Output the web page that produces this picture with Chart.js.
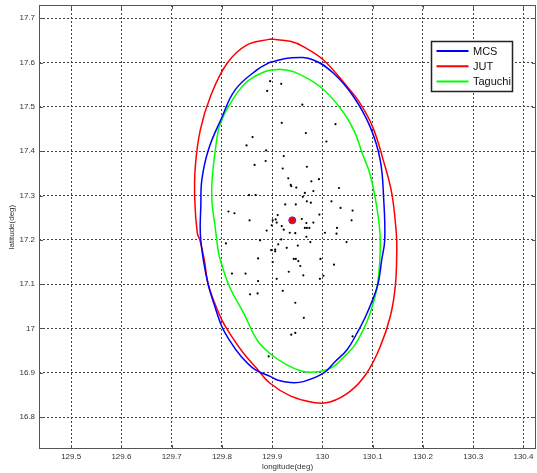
<!DOCTYPE html>
<html><head><meta charset="utf-8">
<script src="https://cdn.jsdelivr.net/npm/chart.js@4"></script>
<style>html,body{margin:0;padding:0;background:#fff}</style>
</head><body>
<canvas id="c" width="537" height="473"></canvas>
<script>
// ---- tick labels ----
const xTicks = [129.5,129.6,129.7,129.8,129.9,130.0,130.1,130.2,130.3,130.4];
const xTickLabels = ['129.5','129.6','129.7','129.8','129.9','130','130.1','130.2','130.3','130.4'];
const yTicks = [16.8,16.9,17.0,17.1,17.2,17.3,17.4,17.5,17.6,17.7];
const yTickLabels = ['16.8','16.9','17','17.1','17.2','17.3','17.4','17.5','17.6','17.7'];

// ---- sample points ----
const sampleLon = [129.896,129.918,129.890,129.960,129.919,129.967,130.026,129.861,129.849,130.008,
 129.888,129.923,129.887,129.865,129.969,129.921,129.932,129.978,129.993,129.937,
 129.938,129.948,130.033,129.982,129.965,129.961,129.854,129.867,129.926,129.947,
 129.969,129.977,130.018,130.036,130.060,129.813,129.825,129.855,129.911,129.994,
 129.901,129.907,129.909,129.959,129.968,129.982,130.058,129.919,129.899,129.923,
 129.889,129.965,129.969,129.974,130.029,129.935,129.946,130.005,130.028,129.968,
 129.918,129.976,129.876,130.048,129.808,129.912,129.929,129.951,129.898,129.906,
 129.906,129.872,129.943,129.947,129.952,129.996,129.901,129.956,130.023,129.933,
 129.820,129.847,129.962,130.002,129.995,129.909,129.872,129.921,129.856,129.871,
 129.946,129.963,129.938,129.946,130.060,129.893];
const sampleLat = [17.558,17.552,17.536,17.505,17.464,17.441,17.461,17.432,17.413,17.422,
 17.402,17.389,17.378,17.369,17.365,17.361,17.339,17.332,17.337,17.324,
 17.321,17.318,17.317,17.310,17.306,17.297,17.301,17.301,17.280,17.280,
 17.287,17.284,17.287,17.272,17.266,17.264,17.260,17.244,17.256,17.257,
 17.244,17.246,17.239,17.247,17.238,17.239,17.244,17.231,17.233,17.223,
 17.221,17.227,17.227,17.227,17.227,17.216,17.215,17.216,17.214,17.207,
 17.201,17.195,17.199,17.195,17.192,17.190,17.182,17.187,17.177,17.178,
 17.174,17.158,17.157,17.157,17.152,17.157,17.150,17.141,17.144,17.128,
 17.124,17.124,17.120,17.119,17.112,17.112,17.107,17.085,17.077,17.079,
 17.058,17.024,16.986,16.990,16.982,16.937];

const centerLon = [129.940];
const centerLat = [17.244];

// ---- confidence ellipses ----
const mcsLon = [129.896,129.939,129.982,130.022,130.062,130.095,130.115,130.122,130.124,130.118,
 130.110,130.089,130.069,130.049,130.025,130.002,129.962,129.936,129.912,129.896,
 129.866,129.836,129.816,129.800,129.785,129.773,129.763,129.757,129.758,129.760,
 129.773,129.799,129.826,129.869,129.896];
const mcsLat = [17.601,17.611,17.606,17.576,17.523,17.455,17.380,17.290,17.200,17.155,
 17.098,17.035,16.990,16.952,16.925,16.899,16.880,16.878,16.883,16.892,
 16.907,16.940,16.972,17.004,17.053,17.098,17.155,17.215,17.275,17.335,
 17.403,17.474,17.538,17.583,17.601];

const jutLon = [129.896,129.936,129.962,130.002,130.049,130.075,130.100,130.121,130.138,130.147,
 130.148,130.145,130.135,130.115,130.088,130.055,130.015,129.982,129.936,129.895,
 129.869,129.843,129.820,129.800,129.783,129.772,129.765,129.756,129.751,129.746,
 129.747,129.757,129.777,129.810,129.850,129.896];
const jutLat = [17.653,17.648,17.636,17.606,17.546,17.508,17.455,17.380,17.305,17.215,
 17.177,17.095,17.027,16.959,16.899,16.858,16.834,16.833,16.848,16.877,
 16.910,16.944,16.981,17.019,17.065,17.102,17.155,17.200,17.215,17.290,
 17.365,17.448,17.523,17.598,17.640,17.653];

const tagLon = [129.916,129.946,129.995,130.035,130.063,130.079,130.095,130.108,130.115,130.110,
 130.095,130.079,130.062,130.041,130.022,129.995,129.962,129.929,129.895,129.870,
 129.844,129.816,129.798,129.793,129.787,129.780,129.781,129.787,129.793,129.800,
 129.813,129.846,129.886,129.916];
const tagLat = [17.585,17.578,17.546,17.498,17.446,17.396,17.347,17.275,17.200,17.102,
 17.035,16.992,16.959,16.934,16.914,16.903,16.903,16.918,16.944,16.974,
 17.033,17.092,17.150,17.173,17.225,17.290,17.343,17.403,17.448,17.471,
 17.501,17.553,17.580,17.585];

const seriesNames = ['MCS','JUT','Taguchi'];
const seriesColors = ['#0000ff','#ff0000','#00ff00'];

const toXY = (xs, ys) => xs.map((v, i) => ({x: v, y: ys[i]}));

const frameTicks = {
  id: 'frameTicks',
  afterDatasetsDraw(chart) {
    const {ctx, chartArea: a, scales} = chart;
    ctx.save();
    ctx.strokeStyle = '#555';
    ctx.lineWidth = 1;
    ctx.beginPath();
    xTicks.forEach(v => {
      const px = Math.round(scales.x.getPixelForValue(v)) + 0.5;
      ctx.moveTo(px, a.top); ctx.lineTo(px, a.top + 4);
      ctx.moveTo(px, a.bottom); ctx.lineTo(px, a.bottom - 4);
    });
    yTicks.forEach(v => {
      const py = Math.round(scales.y.getPixelForValue(v)) + 0.5;
      ctx.moveTo(a.left, py); ctx.lineTo(a.left + 4, py);
      ctx.moveTo(a.right, py); ctx.lineTo(a.right - 4, py);
    });
    ctx.stroke();
    ctx.strokeRect(Math.round(a.left) + 0.5, Math.round(a.top) + 0.5,
                   Math.round(a.right - a.left) - 1, Math.round(a.bottom - a.top) - 1);
    ctx.restore();
  }
};

const boxLegend = {
  id: 'boxLegend',
  afterDraw(chart) {
    const {ctx} = chart;
    const bx = 431.5, by = 41.5, bw = 81, bh = 50;
    ctx.save();
    ctx.fillStyle = '#fff';
    ctx.fillRect(bx, by, bw, bh);
    ctx.strokeStyle = '#222';
    ctx.lineWidth = 1.5;
    ctx.strokeRect(bx, by, bw, bh);
    ctx.font = '11px "Liberation Sans", Arial, sans-serif';
    ctx.textBaseline = 'middle';
    ctx.textAlign = 'left';
    seriesNames.forEach((name, i) => {
      const y = by + 9.5 + i * 15.3;
      ctx.strokeStyle = seriesColors[i];
      ctx.lineWidth = 2;
      ctx.beginPath(); ctx.moveTo(bx + 5, y); ctx.lineTo(bx + 37, y); ctx.stroke();
      ctx.fillStyle = '#111';
      ctx.fillText(name, bx + 41.5, y + 0.5);
    });
    ctx.restore();
  }
};

const tickFont = {family: '"Liberation Sans", Arial, sans-serif', size: 8};

new Chart(document.getElementById('c'), {
  type: 'scatter',
  data: {
    datasets: [
      {label: seriesNames[0], data: toXY(mcsLon, mcsLat), showLine: true, tension: 0.4,
       borderColor: seriesColors[0], borderWidth: 1.5, pointRadius: 0, fill: false, order: 1},
      {label: seriesNames[1], data: toXY(jutLon, jutLat), showLine: true, tension: 0.4,
       borderColor: seriesColors[1], borderWidth: 1.5, pointRadius: 0, fill: false, order: 2},
      {label: seriesNames[2], data: toXY(tagLon, tagLat), showLine: true, tension: 0.4,
       borderColor: seriesColors[2], borderWidth: 1.5, pointRadius: 0, fill: false, order: 3},
      {label: 'samples', data: toXY(sampleLon, sampleLat), pointRadius: 1.1, pointHoverRadius: 1.1,
       backgroundColor: '#000', borderWidth: 0, order: 4},
      {label: 'center', data: toXY(centerLon, centerLat), pointRadius: 3.5, pointHoverRadius: 3.5,
       backgroundColor: '#ff0000', borderColor: '#3333ff', borderWidth: 1, order: 0}
    ]
  },
  options: {
    responsive: false,
    animation: false,
    layout: {autoPadding: false, padding: {top: 5, right: 1, left: 0, bottom: 0}},
    plugins: {legend: {display: false}, tooltip: {enabled: false}},
    scales: {
      x: {
        type: 'linear', min: 129.436, max: 130.425,
        afterBuildTicks(s) { s.ticks = xTicks.map(v => ({value: v})); },
        afterFit(s) { s.height = 24; s.paddingLeft = 0; s.paddingRight = 0; },
        grid: {color: '#444', lineWidth: 1, drawTicks: false},
        border: {display: false, dash: [2, 2]},
        ticks: {color: '#333', font: tickFont, padding: 3, maxRotation: 0, autoSkip: false,
          callback: (v, i) => xTickLabels[i]},
        title: {display: true, text: 'longitude(deg)', color: '#333', font: tickFont,
          padding: {top: 0, bottom: 1}}
      },
      y: {
        type: 'linear', min: 16.728, max: 17.730,
        afterBuildTicks(s) { s.ticks = yTicks.map(v => ({value: v})); },
        afterFit(s) { s.width = 39; s.paddingTop = 0; s.paddingBottom = 0; },
        grid: {color: '#444', lineWidth: 1, drawTicks: false},
        border: {display: false, dash: [2, 2]},
        ticks: {color: '#333', font: tickFont, padding: 4, autoSkip: false,
          callback: (v, i) => yTickLabels[i]},
        title: {display: true, text: 'latitude(deg)', color: '#333', font: tickFont,
          padding: {top: 7, bottom: 0}}
      }
    }
  },
  plugins: [frameTicks, boxLegend]
});
</script>
</body></html>
